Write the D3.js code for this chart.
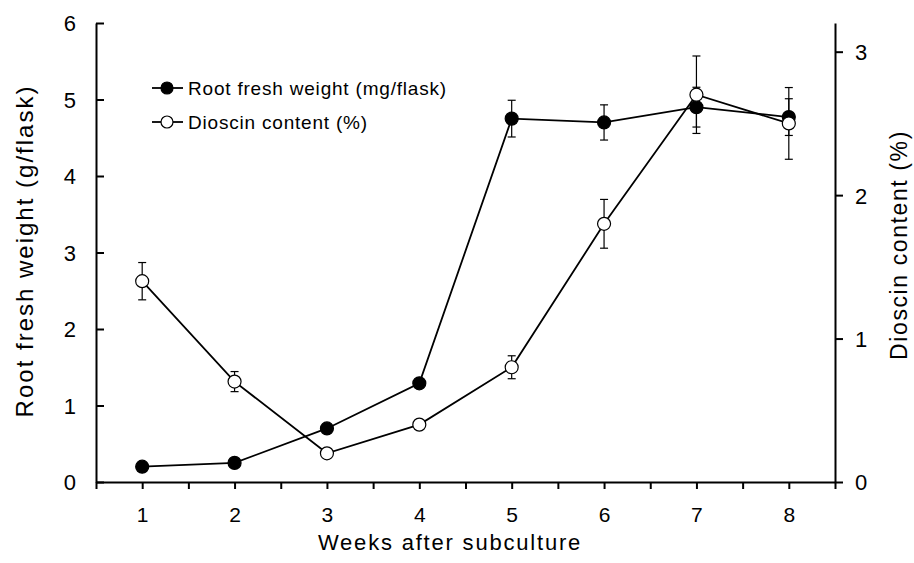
<!DOCTYPE html>
<html>
<head>
<meta charset="utf-8">
<script src="https://cdn.jsdelivr.net/npm/d3@7"></script>
<style>
  body { margin: 0; background: #fff; }
  svg text { font-family: "Liberation Sans", Arial, sans-serif; fill: #000; }
</style>
</head>
<body>
<div id="container"></div>
<script>
// data
const weeks = [1, 2, 3, 4, 5, 6, 7, 8];
const rootWeight = [0.2, 0.25, 0.7, 1.29, 4.75, 4.7, 4.9, 4.77];
const rootErr = [0, 0, 0, 0, 0.24, 0.23, 0.26, 0.24];
const dioscin = [1.4, 0.7, 0.2, 0.4, 0.8, 1.8, 2.7, 2.5];
const dioscinErr = [0.13, 0.07, 0, 0, 0.08, 0.17, 0.27, 0.25];
const xTicks = [0.5, 1, 1.5, 2, 2.5, 3, 3.5, 4, 4.5, 5, 5.5, 6, 6.5, 7, 7.5, 8, 8.5];
const leftTicks = [0, 1, 2, 3, 4, 5, 6];
const rightTicks = [0, 1, 2, 3];

const width = 914, height = 563;
const margin = { top: 23, bottom: 81, left: 96, right: 79 };

const svg = d3.select("#container")
  .append("svg")
  .attr("width", width)
  .attr("height", height);

const x = d3.scaleLinear().domain([0.5, 8.5]).range([margin.left, width - margin.right]);
const yL = d3.scaleLinear().domain([0, 6]).range([height - margin.bottom, margin.top]);
const yR = d3.scaleLinear().domain([0, 3.2]).range([height - margin.bottom, margin.top]);

// axes
const xAxis = svg.append("g")
  .attr("transform", `translate(0,${height - margin.bottom})`)
  .call(d3.axisBottom(x).tickValues(xTicks).tickSize(7).tickSizeOuter(0)
    .tickFormat(d => Number.isInteger(d) && d >= 1 && d <= 8 ? d : ""));
xAxis.selectAll("text").attr("font-size", 21).attr("dy", "1.45em");

const leftAxis = svg.append("g")
  .attr("transform", `translate(${margin.left},0)`)
  .call(d3.axisRight(yL).tickValues(leftTicks).tickSize(8).tickSizeOuter(0).tickFormat(d3.format("d")));
leftAxis.selectAll("text")
  .attr("font-size", 22)
  .attr("text-anchor", "end")
  .attr("x", -20)
  .attr("dy", "0.36em");

const rightAxis = svg.append("g")
  .attr("transform", `translate(${width - margin.right},0)`)
  .call(d3.axisRight(yR).tickValues(rightTicks).tickSize(8).tickSizeOuter(0).tickFormat(d3.format("d")));
rightAxis.selectAll("text")
  .attr("font-size", 22)
  .attr("x", 20)
  .attr("dy", "0.36em");

svg.selectAll(".domain").attr("stroke-width", 2);
svg.selectAll(".tick line").attr("stroke-width", 2);

// axis titles
svg.append("text")
  .attr("transform", `translate(33,251) rotate(-90)`)
  .attr("text-anchor", "middle")
  .attr("font-size", 24)
  .attr("letter-spacing", 2)
  .text("Root fresh weight (g/flask)");

svg.append("text")
  .attr("transform", `translate(907,245) rotate(-90)`)
  .attr("text-anchor", "middle")
  .attr("font-size", 23)
  .attr("letter-spacing", 1.6)
  .text("Dioscin content (%)");

svg.append("text")
  .attr("x", 450)
  .attr("y", 550)
  .attr("text-anchor", "middle")
  .attr("font-size", 22)
  .attr("letter-spacing", 1.8)
  .text("Weeks after subculture");

// series
function drawSeries(values, errs, yScale, fill) {
  const pts = weeks.map((w, i) => ({ w, v: values[i], e: errs[i] }));
  const g = svg.append("g");

  g.selectAll("g.err")
    .data(pts.filter(d => d.e > 0))
    .join("g")
    .attr("class", "err")
    .each(function(d) {
      const s = d3.select(this);
      const cx = x(d.w), y1 = yScale(d.v + d.e), y2 = yScale(d.v - d.e);
      s.append("line").attr("x1", cx).attr("x2", cx).attr("y1", y1).attr("y2", y2);
      s.append("line").attr("x1", cx - 4).attr("x2", cx + 4).attr("y1", y1).attr("y2", y1);
      s.append("line").attr("x1", cx - 4).attr("x2", cx + 4).attr("y1", y2).attr("y2", y2);
    })
    .selectAll("line")
    .attr("stroke", "#000")
    .attr("stroke-width", 1.2);

  g.append("path")
    .datum(pts)
    .attr("fill", "none")
    .attr("stroke", "#000")
    .attr("stroke-width", 1.8)
    .attr("d", d3.line().x(d => x(d.w)).y(d => yScale(d.v)));

  g.selectAll("circle")
    .data(pts)
    .join("circle")
    .attr("cx", d => x(d.w))
    .attr("cy", d => yScale(d.v))
    .attr("r", 6.5)
    .attr("fill", fill)
    .attr("stroke", "#000")
    .attr("stroke-width", 1.2);
}

drawSeries(rootWeight, rootErr, yL, "#000");
drawSeries(dioscin, dioscinErr, yR, "#fff");

// legend
const legendItems = [
  { label: "Root fresh weight (mg/flask)", fill: "#000" },
  { label: "Dioscin content (%)", fill: "#fff" }
];
const legend = svg.append("g").attr("transform", "translate(152,88)");
legend.selectAll("g")
  .data(legendItems)
  .join("g")
  .attr("transform", (d, i) => `translate(0,${i * 34})`)
  .each(function(d) {
    const s = d3.select(this);
    s.append("line").attr("x1", 0).attr("x2", 31).attr("stroke", "#000").attr("stroke-width", 1.8);
    s.append("circle").attr("cx", 15).attr("r", 6).attr("fill", d.fill)
      .attr("stroke", "#000").attr("stroke-width", 1.2);
    s.append("text").attr("x", 36).attr("dy", "0.36em").attr("font-size", 19)
      .attr("letter-spacing", 0.8).text(d.label);
  });
</script>
</body>
</html>
